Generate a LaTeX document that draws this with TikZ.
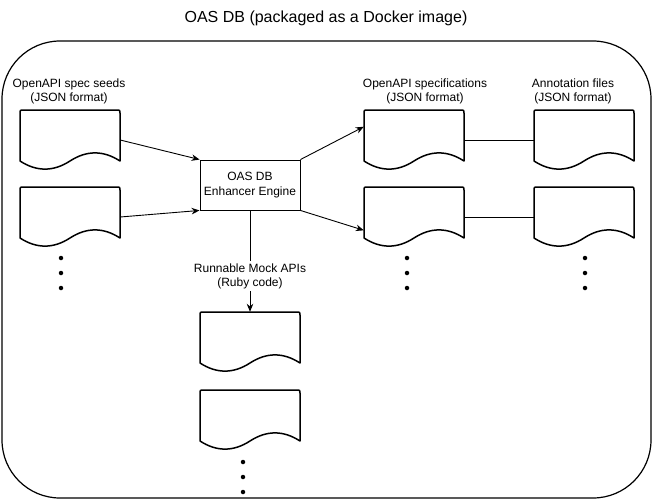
\documentclass[tikz,border=0pt]{standalone}
\usepackage{fontspec}
\setmainfont{Liberation Sans}
\usetikzlibrary{arrows.meta,calc}
\tikzset{
  docline/.style={line width=1.5pt, line join=round},
  docbox/.style={draw=none, minimum width=100pt, minimum height=60pt, inner sep=0pt},
  enginebox/.style={draw, line width=0.9pt, minimum width=100pt, minimum height=50pt, inner sep=0pt, align=center, font=\fontsize{12}{15}\selectfont},
  lbl/.style={align=center, inner sep=1pt, font=\fontsize{12}{14}\selectfont},
  arr/.style={line width=0.9pt, -{Stealth[length=8pt,width=6.5pt]}},
  conn/.style={line width=0.9pt},
  dotnode/.style={circle, fill=black, inner sep=0pt, minimum size=4.5pt},
  outer/.style={line width=1.2pt, rounded corners=58pt}
}
% document shape: name, left x, top y
\newcommand\docat[3]{%
  \node[docbox] (#1) at (#2+50,#3+30) {};
  \draw[docline] (#2,#3+51) -- (#2,#3+3) .. controls (#2,#3) .. (#2+3,#3)
    -- (#2+97,#3) .. controls (#2+100,#3) .. (#2+100,#3+3)
    -- (#2+100,#3+51)
    .. controls (#2+83.33,#3+40.2) and (#2+66.67,#3+40.2) .. (#2+50,#3+51)
    .. controls (#2+33.33,#3+61.8) and (#2+16.67,#3+61.8) .. (#2,#3+51) -- cycle;
}
\begin{document}
\begin{tikzpicture}[x=1pt,y=-1pt]
\useasboundingbox (0,0) rectangle (654,501);
% outer container
\draw[outer] (2,41) rectangle (651,498);
\node[font=\fontsize{16}{18}\selectfont] (title) at (326,18) {OAS DB (packaged as a Docker image)};
% labels
\node[lbl] (lseeds) at (69,91.5) {OpenAPI spec seeds\\(JSON format)};
\node[lbl] (lspecs) at (425,91.5) {OpenAPI specifications\\(JSON format)};
\node[lbl] (lannot) at (573,91.5) {Annotation files\\(JSON format)};
% documents
\docat{l1}{20}{110}
\docat{l2}{20}{187}
\docat{s1}{364}{110}
\docat{s2}{364}{187}
\docat{a1}{534}{110}
\docat{a2}{534}{187}
\docat{m1}{200}{312}
\docat{m2}{200}{390}
% engine
\node[enginebox] (eng) at (250,185) {OAS DB\\Enhancer Engine};
% connectors
\draw[arr] (l1.east) -- (eng.north west);
\draw[arr] (l2.east) -- (eng.south west);
\draw[arr] (eng.north east) -- ($(s1.north west)!0.28!(s1.south west)$);
\draw[arr] (eng.south east) -- ($(s2.north west)!0.72!(s2.south west)$);
\draw[conn] (s1.east) -- (a1.west);
\draw[conn] (s2.east) -- (a2.west);
\draw[arr] (eng.south) -- node[lbl, fill=white, pos=0.647, inner sep=2pt] (lmock) {Runnable Mock APIs\\(Ruby code)} (m1.north);
% dots
\foreach \yy [count=\i] in {258,273,288} {
  \node[dotnode] (dl\i) at (61,\yy) {};
  \node[dotnode] (ds\i) at (407,\yy) {};
  \node[dotnode] (da\i) at (585,\yy) {};
}
\foreach \yy [count=\i] in {462,477,492} {
  \node[dotnode] (dm\i) at (243,\yy) {};
}
\end{tikzpicture}
\end{document}
